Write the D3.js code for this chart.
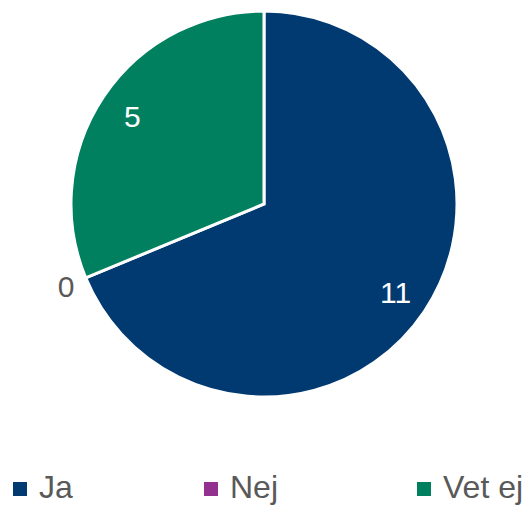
<!DOCTYPE html>
<html>
<head>
<meta charset="utf-8">
<script src="https://cdn.jsdelivr.net/npm/d3@7"></script>
<style>
  body { margin: 0; background: #fff; }
  text { font-family: "Liberation Sans", Arial, sans-serif; }
</style>
</head>
<body>
<div class="chart"></div>
<script>
const categories = ["Ja", "Nej", "Vet ej"];
const values = [11, 0, 5];
const colors = ["#003A70", "#93328E", "#00805F"];

const width = 528, height = 507;
const cx = 264, cy = 204, r = 193;

const svg = d3.select(".chart")
  .append("svg")
  .attr("width", width)
  .attr("height", height);

const data = categories.map((c, i) => ({ cat: c, value: values[i], color: colors[i] }));

const pie = d3.pie()
  .sort(null)
  .value(d => d.value);

const arcs = pie(data);

const arc = d3.arc()
  .innerRadius(0)
  .outerRadius(r);

const g = svg.append("g")
  .attr("transform", `translate(${cx},${cy})`);

g.selectAll("path")
  .data(arcs.filter(d => d.data.value > 0))
  .enter()
  .append("path")
  .attr("d", arc)
  .attr("fill", d => d.data.color)
  .attr("stroke", "#fff")
  .attr("stroke-width", 3)
  .attr("stroke-linejoin", "miter");

// labels: inside for non-zero, outside for zero
const inner = d3.arc().innerRadius(r * 0.82).outerRadius(r * 0.82);
const outer = d3.arc().innerRadius(r * 1.11).outerRadius(r * 1.11);

g.selectAll("text.lbl")
  .data(arcs)
  .enter()
  .append("text")
  .attr("class", "lbl")
  .attr("transform", d => {
    const p = d.data.value > 0 ? inner.centroid(d) : outer.centroid(d);
    return `translate(${p[0]},${p[1]})`;
  })
  .attr("text-anchor", "middle")
  .attr("dy", "0.36em")
  .attr("font-size", 30)
  .attr("fill", d => d.data.value > 0 ? "#fff" : "#595959")
  .text(d => d.data.value);

// legend
const legX = [13, 204, 417];
const leg = svg.selectAll("g.leg")
  .data(data)
  .enter()
  .append("g")
  .attr("class", "leg")
  .attr("transform", (d, i) => `translate(${legX[i]},482)`);

leg.append("rect")
  .attr("width", 14)
  .attr("height", 14)
  .attr("fill", d => d.color);

leg.append("text")
  .attr("x", 26)
  .attr("y", 16)
  .attr("font-size", 32)
  .attr("fill", "#595959")
  .text(d => d.cat);
</script>
</body>
</html>
